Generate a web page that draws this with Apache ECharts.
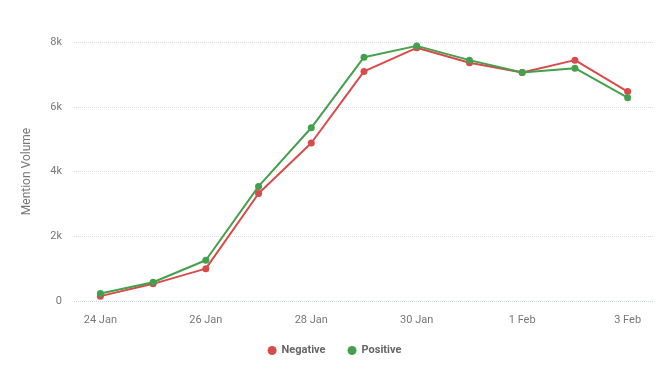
<!DOCTYPE html>
<html>
<head>
<meta charset="utf-8">
<script src="https://cdn.jsdelivr.net/npm/echarts@6/dist/echarts.min.js"></script>
<style>
  html, body { margin: 0; padding: 0; background: #fff; }
  #chart { width: 669px; height: 378px; }
</style>
</head>
<body>
<div id="chart"></div>
<script>
// dates on the x axis (one point per day)
var days = ["24 Jan", "25 Jan", "26 Jan", "27 Jan", "28 Jan", "29 Jan", "30 Jan", "31 Jan", "1 Feb", "2 Feb", "3 Feb"];
// mention volume
var negative = [150, 530, 1000, 3320, 4880, 7090, 7820, 7360, 7060, 7440, 6470];
var positive = [230, 580, 1260, 3540, 5350, 7530, 7880, 7440, 7060, 7190, 6280];

var chart = echarts.init(document.getElementById("chart"));
chart.setOption({
  animation: false,
  textStyle: { fontFamily: "Roboto" },
  grid: { left: 74, right: 15, top: 42, bottom: 77 },
  legend: {
    bottom: 17,
    left: "center",
    icon: "circle",
    itemWidth: 9,
    itemHeight: 9,
    itemGap: 22,
    textStyle: { color: "#666", fontSize: 11, fontWeight: "bold" },
    data: ["Negative", "Positive"]
  },
  xAxis: {
    type: "category",
    data: days,
    axisLine: { show: false },
    axisTick: { show: false },
    axisLabel: { color: "#777", fontSize: 11, margin: 14, interval: 1 }
  },
  yAxis: {
    type: "value",
    min: 0,
    max: 8000,
    interval: 2000,
    name: "Mention Volume",
    nameLocation: "middle",
    nameGap: 41,
    nameTextStyle: { color: "#777", fontSize: 12 },
    axisLabel: {
      color: "#777",
      fontSize: 11,
      margin: 12,
      formatter: function (v) { return v === 0 ? "0" : (v / 1000) + "k"; }
    },
    // zero line is a little bluer than the rest
    splitLine: { lineStyle: { color: ["#ccd6eb", "#ddd", "#ddd", "#ddd", "#ddd"], type: "dotted" } }
  },
  series: [
    {
      name: "Negative",
      type: "line",
      data: negative,
      color: "#d94a4a",
      symbol: "circle",
      symbolSize: 7,
      lineStyle: { width: 2 }
    },
    {
      name: "Positive",
      type: "line",
      data: positive,
      color: "#44a04c",
      symbol: "circle",
      symbolSize: 7,
      lineStyle: { width: 2 }
    }
  ]
});
</script>
</body>
</html>
